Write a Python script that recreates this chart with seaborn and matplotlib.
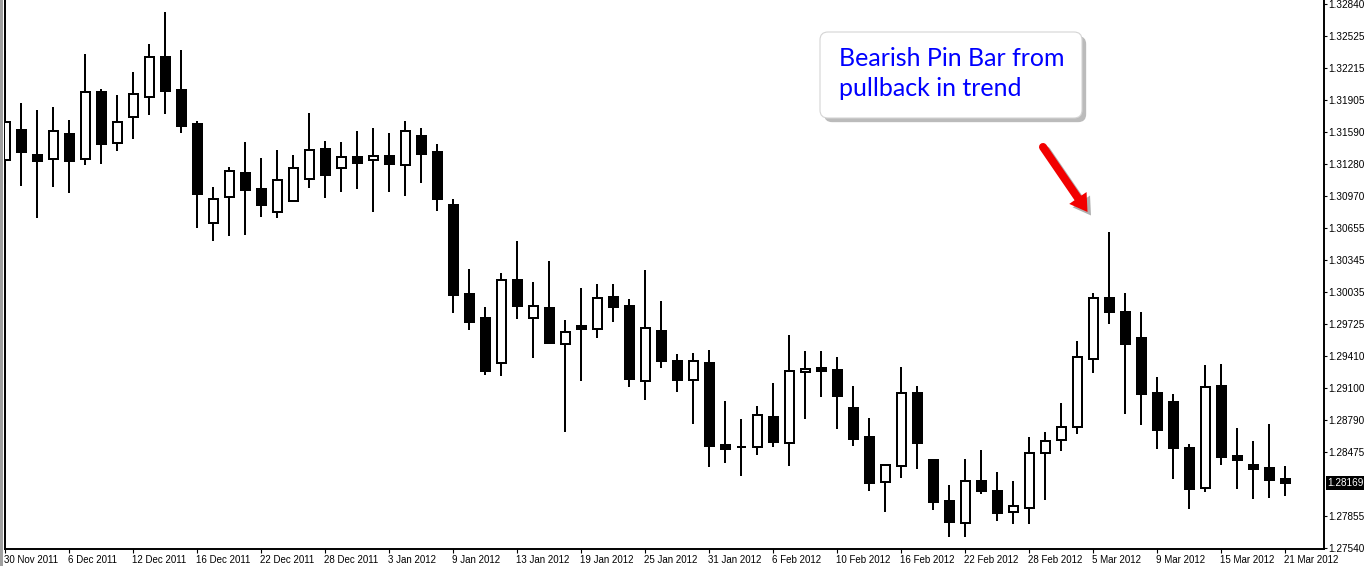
import numpy as np
import pandas as pd
import seaborn as sns
import matplotlib.pyplot as plt
import matplotlib.patheffects as pe
from matplotlib.patches import FancyBboxPatch, Polygon, Rectangle
from matplotlib.lines import Line2D
from matplotlib.transforms import Affine2D, ScaledTranslation, blended_transform_factory

# daily EURUSD-style candles, 30 Nov 2011 .. 21 Mar 2012
opens = [
    1.31317, 1.31613, 1.31369, 1.31327, 1.31574, 1.31327, 1.31983, 1.31483, 1.31736, 1.31931,
    1.32321, 1.32002, 1.31671, 1.30704, 1.30957, 1.31194, 1.31038, 1.30811, 1.30918, 1.31132,
    1.31427, 1.31239, 1.31350, 1.31317, 1.31359, 1.31269, 1.31554, 1.31398, 1.30882, 1.30015,
    1.29781, 1.29345, 1.30151, 1.29778, 1.29878, 1.29531, 1.29703, 1.29677, 1.29986, 1.29898,
    1.29170, 1.29654, 1.29362, 1.29180, 1.29345, 1.28544, 1.28524, 1.28521, 1.28816, 1.28566,
    1.29258, 1.29294, 1.29274, 1.28904, 1.28621, 1.28186, 1.28342, 1.29047, 1.28397, 1.27995,
    1.27787, 1.28190, 1.28092, 1.27888, 1.27927, 1.28463, 1.28589, 1.28716, 1.29379, 1.29973,
    1.29836, 1.29586, 1.29050, 1.28962, 1.28514, 1.28122, 1.29118, 1.28436, 1.28349, 1.28319,
    1.28212]
highs = [
    1.32382, 1.31876, 1.31807, 1.31837, 1.31710, 1.32353, 1.32012, 1.31954, 1.32178, 1.32450,
    1.32762, 1.32392, 1.31700, 1.31057, 1.31252, 1.31496, 1.31340, 1.31418, 1.31369, 1.31778,
    1.31505, 1.31496, 1.31603, 1.31632, 1.31583, 1.31700, 1.31632, 1.31476, 1.30940, 1.30258,
    1.29888, 1.30219, 1.30531, 1.30132, 1.30336, 1.29761, 1.30073, 1.30112, 1.30112, 1.29966,
    1.30249, 1.29947, 1.29433, 1.29443, 1.29472, 1.28975, 1.28800, 1.28926, 1.29151, 1.29618,
    1.29462, 1.29462, 1.29404, 1.29121, 1.28810, 1.28346, 1.29303, 1.29118, 1.28397, 1.28154,
    1.28407, 1.28495, 1.28280, 1.28193, 1.28619, 1.28670, 1.28953, 1.29557, 1.30025, 1.30619,
    1.30025, 1.29839, 1.29206, 1.29040, 1.28553, 1.29323, 1.29333, 1.28709, 1.28585, 1.28748,
    1.28339]
lows = [
    1.31087, 1.31070, 1.30758, 1.31060, 1.31002, 1.31275, 1.31284, 1.31411, 1.31528, 1.31762,
    1.31771, 1.31586, 1.30661, 1.30534, 1.30583, 1.30593, 1.30768, 1.30758, 1.30918, 1.31050,
    1.30953, 1.31011, 1.31041, 1.30817, 1.31011, 1.30973, 1.31099, 1.30826, 1.29833, 1.29667,
    1.29228, 1.29219, 1.29774, 1.29394, 1.29540, 1.28673, 1.29170, 1.29589, 1.29745, 1.29112,
    1.28985, 1.29297, 1.29063, 1.28751, 1.28332, 1.28371, 1.28244, 1.28449, 1.28527, 1.28342,
    1.28800, 1.29014, 1.28702, 1.28537, 1.28098, 1.27894, 1.28225, 1.28313, 1.27913, 1.27650,
    1.27650, 1.28069, 1.27806, 1.27777, 1.27777, 1.28011, 1.28488, 1.28654, 1.29248, 1.29725,
    1.28849, 1.28741, 1.28507, 1.28215, 1.27923, 1.28089, 1.28352, 1.28118, 1.28020, 1.28030,
    1.28050]
closes = [
    1.31688, 1.31401, 1.31314, 1.31600, 1.31314, 1.31980, 1.31479, 1.31688, 1.31960, 1.32321,
    1.31995, 1.31654, 1.30992, 1.30937, 1.31210, 1.31031, 1.30885, 1.31123, 1.31239, 1.31415,
    1.31177, 1.31347, 1.31294, 1.31359, 1.31284, 1.31600, 1.31382, 1.30943, 1.30008, 1.29745,
    1.29267, 1.30151, 1.29901, 1.29895, 1.29540, 1.29642, 1.29677, 1.29976, 1.29891, 1.29190,
    1.29684, 1.29365, 1.29180, 1.29362, 1.28537, 1.28507, 1.28524, 1.28836, 1.28576, 1.29265,
    1.29284, 1.29267, 1.29024, 1.28605, 1.28176, 1.28346, 1.29047, 1.28566, 1.27991, 1.27796,
    1.28190, 1.28098, 1.27884, 1.27946, 1.28463, 1.28580, 1.28716, 1.29398, 1.29973, 1.29842,
    1.29531, 1.29043, 1.28693, 1.28517, 1.28118, 1.29109, 1.28430, 1.28400, 1.28313, 1.28205,
    1.28169]

date_labels = ['30 Nov 2011', '6 Dec 2011', '12 Dec 2011', '16 Dec 2011', '22 Dec 2011',
               '28 Dec 2011', '3 Jan 2012', '9 Jan 2012', '13 Jan 2012', '19 Jan 2012',
               '25 Jan 2012', '31 Jan 2012', '6 Feb 2012', '10 Feb 2012', '16 Feb 2012',
               '22 Feb 2012', '28 Feb 2012', '5 Mar 2012', '9 Mar 2012', '15 Mar 2012',
               '21 Mar 2012']
price_ticks = [1.32840, 1.32525, 1.32215, 1.31905, 1.31590, 1.31280, 1.30970, 1.30655,
               1.30345, 1.30035, 1.29725, 1.29410, 1.29100, 1.28790, 1.28475, 1.27855, 1.27540]
note_lines = ['Bearish Pin Bar from', 'pullback in trend']

df = pd.DataFrame({'open': opens, 'high': highs, 'low': lows, 'close': closes})
df['bar'] = np.arange(len(df))
df['up'] = df['close'] >= df['open']

sns.set_theme(style='white')
plt.rcParams['font.family'] = ['Liberation Sans', 'DejaVu Sans']

W, H = 1364, 566
fig = plt.figure(figsize=(W / 100, H / 100), dpi=100)
ax = fig.add_axes([5 / W, 17 / H, 1319 / W, 549 / H])

# wicks then bodies
ax.vlines(df['bar'], df['low'], df['high'], color='black', lw=1.44, zorder=2)
body_lo = df[['open', 'close']].min(axis=1)
body_h = (df['close'] - df['open']).abs()
ax.bar(df['bar'], body_h, bottom=body_lo, width=0.56,
       color=np.where(df['up'], 'white', 'black'), edgecolor='black', linewidth=1.44, zorder=3)

ax.set_xlim(-0.02, 82.42)
ax.set_ylim(1.27530, 1.32879)

ax.spines['top'].set_visible(False)
for s in ['left', 'right', 'bottom']:
    ax.spines[s].set_color('black')
    ax.spines[s].set_linewidth(1.4)

ax.yaxis.tick_right()
ax.set_yticks(price_ticks, [f'{v:.5f}' for v in price_ticks])
ax.tick_params(axis='y', right=True, left=False, direction='out', length=2.2, width=0.8,
               pad=1.0, labelsize=7.2, colors='black')
ax.set_xticks(df['bar'][::4], date_labels)
ax.tick_params(axis='x', bottom=True, direction='out', length=3, width=0.8, pad=1,
               labelsize=7, colors='black')
shift = ScaledTranslation(-1 / 100, 0, fig.dpi_scale_trans)
for lab in ax.get_xticklabels():
    lab.set_horizontalalignment('left')
    lab.set_transform(lab.get_transform() + shift)
ax.grid(False)

# current price marker
last = df['close'].iloc[-1]
ax.annotate(f'{last:.5f}', xy=(1, last), xycoords=blended_transform_factory(ax.transAxes, ax.transData),
            xytext=(2.6, 0), textcoords='offset points', ha='left', va='center', fontsize=7.2,
            color='white', annotation_clip=False,
            bbox=dict(boxstyle='square,pad=0.2', fc='black', ec='none'))

# pixel coords (y from top) for the callout
px = Affine2D().scale(1 / W, -1 / H).translate(0, 1) + fig.transFigure

fig.add_artist(Rectangle((0, 0), 2.7, H, transform=px, fc='#a0a0a0', ec='none'))

box = FancyBboxPatch((820, 32), 262, 86, boxstyle='round,pad=0,rounding_size=8', transform=px,
                     fc='white', ec='#d4d4d4', lw=0.8,
                     path_effects=[pe.SimplePatchShadow(offset=(3, -3), shadow_rgbFace='#555555', alpha=0.4),
                                   pe.Normal()])
fig.add_artist(box)
fig.text(839, 66, note_lines[0], transform=px, fontsize=18, family=['Lato', 'DejaVu Sans'],
         color='#0000ff', va='baseline', ha='left')
fig.text(839, 96, note_lines[1], transform=px, fontsize=18, family=['Lato', 'DejaVu Sans'],
         color='#0000ff', va='baseline', ha='left')

# red arrow pointing at the pin bar
tail = np.array([1043.0, 147.0])
tip = np.array([1087.5, 212.0])
u = (tip - tail) / np.linalg.norm(tip - tail)
n = np.array([-u[1], u[0]])
base = tip - 17 * u
shaft = Line2D([tail[0], base[0] + 2 * u[0]], [tail[1], base[1] + 2 * u[1]], transform=px,
               color='#f20000', lw=5.8, solid_capstyle='round', zorder=4,
               path_effects=[pe.SimpleLineShadow(offset=(2.5, -2.5), shadow_color='k', alpha=0.35),
                             pe.Normal()])
fig.add_artist(shaft)
head = Polygon([tip, base + 10.5 * n, base - 10.5 * n], closed=True, transform=px,
               fc='#f20000', ec='none', zorder=5,
               path_effects=[pe.SimplePatchShadow(offset=(2.5, -2.5), shadow_rgbFace='k', alpha=0.35),
                             pe.Normal()])
fig.add_artist(head)

fig.savefig('out.png', dpi=100)
